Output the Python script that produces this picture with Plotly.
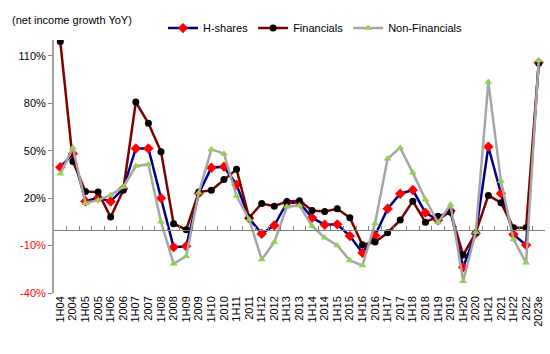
import plotly.graph_objects as go

categories = ["1H04", "2004", "1H05", "2005", "1H06", "2006", "1H07", "2007", "1H08", "2008",
              "1H09", "2009", "1H10", "2010", "1H11", "2011", "1H12", "2012", "1H13", "2013",
              "1H14", "2014", "1H15", "2015", "1H16", "2016", "1H17", "2017", "1H18", "2018",
              "1H19", "2019", "1H20", "2020", "1H21", "2021", "1H22", "2022", "2023e"]

h_shares = [39.6, 48.0, 18.0, 20.2, 17.9, 26.0, 51.4, 51.4, 20.0, -11.0,
            -10.4, 23.0, 39.2, 39.9, 28.5, 7.2, -2.5, 2.7, 17.1, 17.1,
            7.6, 3.2, 3.4, -4.0, -14.6, -3.6, 13.3, 22.8, 25.1, 10.8,
            6.0, 12.0, -23.7, -2.3, 52.5, 23.0, -3.0, -9.7, 105.7]

financials = [119.0, 43.2, 24.2, 23.8, 8.0, 25.0, 80.8, 67.3, 49.4, 3.8,
              0.0, 23.8, 25.0, 31.8, 38.2, 7.6, 16.6, 14.9, 17.9, 18.4,
              12.2, 11.6, 13.3, 7.6, -9.5, -7.8, -1.9, 6.1, 18.1, 4.8,
              8.5, 11.1, -16.0, -1.9, 21.7, 17.1, 1.3, 1.3, 105.3]

non_financials = [35.4, 51.9, 16.8, 18.7, 21.9, 27.0, 40.3, 41.3, 5.0, -21.5,
                  -16.7, 23.4, 50.8, 48.1, 21.3, 6.5, -18.8, -7.8, 14.6, 15.4,
                  2.3, -5.0, -9.9, -19.4, -22.6, 4.0, 44.9, 51.9, 36.0, 19.2,
                  4.6, 15.8, -32.5, -1.5, 93.4, 30.8, -6.1, -20.9, 107.1]

y_ticks = [-40, -10, 20, 50, 80, 110]
y_labels = [f"<span style='color:#FF0000'>{v}%</span>" if v < 0 else f"{v}%" for v in y_ticks]

n = len(categories)
x_range = [-0.5, n - 0.5]
y_range = [-40, 120]
zero_pos = (0 - y_range[0]) / (y_range[1] - y_range[0])

fig = go.Figure()
fig.add_trace(go.Scatter(
    x=categories, y=h_shares, name="H-shares", mode="lines+markers",
    line=dict(color="#00008B", width=2.5),
    marker=dict(symbol="diamond", color="#FF0000", size=8)))
fig.add_trace(go.Scatter(
    x=categories, y=financials, name="Financials", mode="lines+markers",
    line=dict(color="#800000", width=2.5),
    marker=dict(symbol="circle", color="#000000", size=7)))
fig.add_trace(go.Scatter(
    x=categories, y=non_financials, name="Non-Financials", mode="lines+markers",
    line=dict(color="#A6A6A6", width=2.5),
    marker=dict(symbol="triangle-up", color="#92D050", size=7)))
# invisible trace carrying the thin zero-line subplot (for its boundary ticks)
fig.add_trace(go.Scatter(x=categories, y=[0] * n, xaxis="x2", yaxis="y2",
                         showlegend=False, hoverinfo="skip", mode="lines",
                         line=dict(color="rgba(0,0,0,0)", width=0)))

fig.update_layout(
    width=550, height=354,
    margin=dict(l=54, r=5, t=40, b=61),
    paper_bgcolor="white", plot_bgcolor="rgba(0,0,0,0)",
    font=dict(family="Liberation Sans, Arial, sans-serif", size=11, color="#000000"),
    showlegend=True,
    legend=dict(orientation="h", x=0.222, xanchor="left", y=1.047, yanchor="middle",
                font=dict(size=11), itemwidth=30, bgcolor="rgba(0,0,0,0)"),
    xaxis=dict(type="category", categoryorder="array", categoryarray=categories,
               range=x_range, anchor="y",
               tickmode="array", tickvals=categories, ticktext=categories,
               showline=False, ticks="", tickangle=-90, showgrid=False,
               zeroline=False, tickfont=dict(size=11)),
    yaxis=dict(range=y_range, tickmode="array", tickvals=y_ticks, ticktext=y_labels,
               showline=True, linecolor="#A0A0A0", linewidth=2,
               ticks="outside", ticklen=4, tickcolor="#808080", tickwidth=1,
               showgrid=False, zeroline=False,
               tickfont=dict(size=11)),
    xaxis2=dict(type="category", categoryorder="array", categoryarray=categories,
                range=x_range, anchor="y2", tickmode="linear", tick0=0, dtick=1,
                showline=True, linecolor="#808080", linewidth=1.3,
                ticks="inside", ticklen=4, tickcolor="#808080", tickwidth=1,
                tickson="boundaries", showticklabels=False,
                showgrid=False, zeroline=False),
    yaxis2=dict(domain=[zero_pos, zero_pos + 0.02], range=[0, 1], anchor="x2",
                showticklabels=False, ticks="", showline=False,
                showgrid=False, zeroline=False),
    annotations=[dict(text="(net income growth YoY)", xref="paper", yref="paper",
                      x=-54 / 491 + 10 / 491, y=1 + 20 / 253, xanchor="left",
                      yanchor="middle", showarrow=False, font=dict(size=11))],
)

fig.write_html("out.html")
